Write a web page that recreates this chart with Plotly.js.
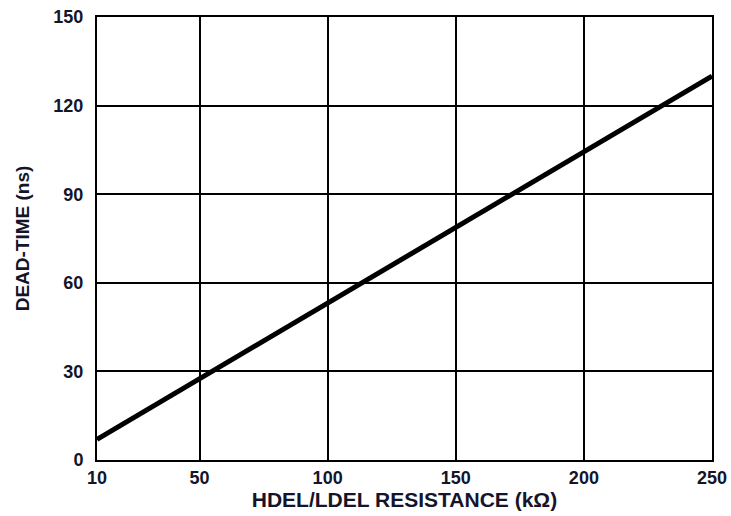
<!DOCTYPE html>
<html>
<head>
<meta charset="utf-8">
<script src="https://cdn.plot.ly/plotly-3.0.1.min.js"></script>
<style>html,body{margin:0;padding:0;background:#fff}#chart{width:731px;height:516px}</style>
</head>
<body>
<div id="chart"></div>
<script>
const resistance = [10, 50, 100, 150, 200, 250];
const deadTime = [7, 27.5, 53, 79, 104.5, 130];
const xTicks = [10, 50, 100, 150, 200, 250];
const yTicks = [0, 30, 60, 90, 120, 150];

const fam = 'Liberation Sans, Arial, sans-serif';
const col = '#14142a';

Plotly.newPlot('chart', [{
  x: resistance, y: deadTime, mode: 'lines', type: 'scatter',
  line: {color: '#000', width: 5}, hoverinfo: 'skip'
}], {
  width: 731, height: 516,
  margin: {l: 97, r: 19, t: 17, b: 56},
  paper_bgcolor: '#fff', plot_bgcolor: '#fff',
  showlegend: false,
  font: {family: fam, size: 18, color: col},
  xaxis: {
    range: [10, 250], tickvals: xTicks, ticktext: xTicks.map(v => '<b>' + v + '</b>'),
    showgrid: true, gridcolor: '#000', gridwidth: 2,
    showline: true, linecolor: '#000', linewidth: 2, mirror: true,
    zeroline: false, ticks: '', ticklen: 0,
    tickfont: {family: fam, size: 18, color: col},
    title: {text: '<b>HDEL/LDEL RESISTANCE (kΩ)</b>', font: {family: fam, size: 21, color: col}, standoff: 4}
  },
  yaxis: {
    range: [0, 150], tickvals: yTicks, ticktext: yTicks.map(v => '<b>' + v + '</b>'),
    showgrid: true, gridcolor: '#000', gridwidth: 2,
    showline: true, linecolor: '#000', linewidth: 2, mirror: true,
    zeroline: false, ticks: '', ticklen: 0, ticklabelstandoff: 8,
    tickfont: {family: fam, size: 18, color: col},
    title: {text: '<b>DEAD-TIME (ns)</b>', font: {family: fam, size: 19, color: col}, standoff: 19}
  }
}, {displayModeBar: false, staticPlot: true});
</script>
</body>
</html>
